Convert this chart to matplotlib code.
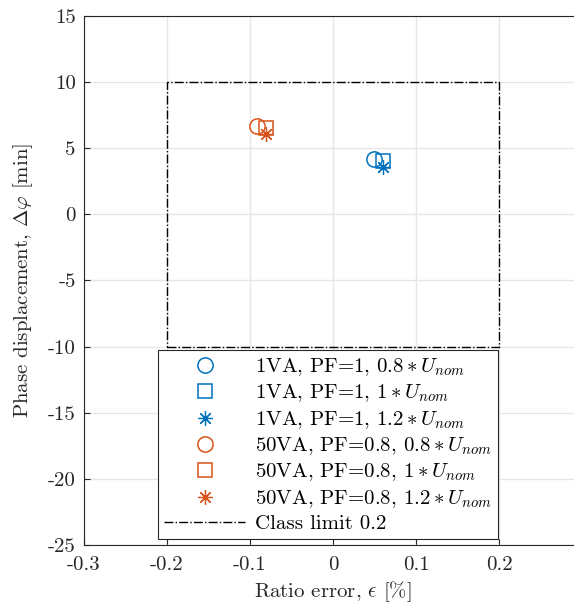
import numpy as np
import matplotlib
matplotlib.use('Agg')
import matplotlib.pyplot as plt

# measured points (ratio error [%], phase displacement [min])
labels = [r'1VA, PF=1, $0.8*U_{nom}$',
          r'1VA, PF=1, $1*U_{nom}$',
          r'1VA, PF=1, $1.2*U_{nom}$',
          r'50VA, PF=0.8, $0.8*U_{nom}$',
          r'50VA, PF=0.8, $1*U_{nom}$',
          r'50VA, PF=0.8, $1.2*U_{nom}$']
ratio_err = [0.05, 0.06, 0.06, -0.092, -0.081, -0.081]
phase_disp = [4.2, 4.0, 3.6, 6.7, 6.5, 6.1]
markers = ['o', 's', (8, 2, 0), 'o', 's', (8, 2, 0)]
colors = ['#0072BD'] * 3 + ['#D95319'] * 3

# class 0.2 limits
lim_x = [-0.2, 0.2, 0.2, -0.2, -0.2]
lim_y = [-10, -10, 10, 10, -10]

xticks = [-0.3, -0.2, -0.1, 0, 0.1, 0.2]
yticks = [-25, -20, -15, -10, -5, 0, 5, 10, 15]

plt.rcParams['font.family'] = 'serif'
plt.rcParams['font.serif'] = ['cmr10', 'DejaVu Serif']
plt.rcParams['mathtext.fontset'] = 'cm'
plt.rcParams['axes.unicode_minus'] = False
plt.rcParams['font.size'] = 15

fig = plt.figure(figsize=(5.74, 6.05), dpi=100)
ax = fig.add_axes([0.1463, 0.0992, 0.8676, 0.8744])

for i in range(len(labels)):
    star = not isinstance(markers[i], str)
    ms = 11 if markers[i] == 'o' else (10.5 if star else 9.5)
    ax.plot(ratio_err[i], phase_disp[i], linestyle='none', marker=markers[i],
            color=colors[i], markerfacecolor='none', markersize=ms,
            markeredgewidth=0.9 if star else 1.1, label=labels[i])

ax.plot(lim_x, lim_y, 'k-.', linewidth=1.0, label='Class limit 0.2')

ax.set_xlim(-0.3, 0.3)
ax.set_ylim(-25, 15)
ax.set_xticks(xticks)
ax.set_xticklabels(['-0.3', '-0.2', '-0.1', '0', '0.1', '0.2'])
ax.set_yticks(yticks)
ax.set_yticklabels([str(v) for v in yticks])
ax.grid(True, color='#e6e6e6', linewidth=1.0)
ax.set_axisbelow(True)
ax.tick_params(direction='in', length=4, color='#262626', labelcolor='#262626', pad=6)
ax.tick_params(axis='x', pad=8)
for s in ax.spines.values():
    s.set_color('#262626')
ax.spines['right'].set_visible(False)

ax.set_xlabel(r'Ratio error, $\epsilon$ [%]', color='#262626', labelpad=4)
ax.set_ylabel(r'Phase displacement, $\Delta\varphi$ [min]', color='#262626', labelpad=9)

leg = ax.legend(loc='upper left', bbox_to_anchor=(0.1486, 0.3686),
                fancybox=False, edgecolor='#262626', framealpha=1,
                handlelength=3.9, handletextpad=0.45, labelspacing=0.22,
                borderpad=0.3, borderaxespad=0, fontsize=15)
leg.get_frame().set_linewidth(0.8)

fig.savefig('out.png', dpi=100)
